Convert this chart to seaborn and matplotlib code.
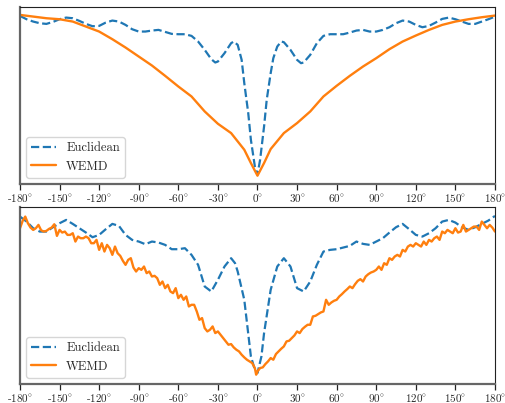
import matplotlib
matplotlib.use("Agg")
import matplotlib.pyplot as plt
import pandas as pd
import seaborn as sns

# angle (deg) -> distance (arbitrary units)
top_euc_deg = [-180, -175, -170, -165, -160, -155, -150, -145, -140, -135, -130, -125, -120,
               -115, -110, -105, -100, -95, -90, -85, -80, -75, -70, -65, -60, -55, -50, -45,
               -40, -35, -32, -30, -25, -20, -18, -15, -12, -10, -7, -5, -2, 0,
               2, 5, 7, 10, 12, 15, 18, 20, 25, 30, 33, 35, 40, 45, 50, 55, 60, 65, 70, 75,
               80, 85, 90, 95, 100, 105, 110, 115, 120, 125, 130, 135, 140, 145, 150, 155,
               160, 165, 170, 175, 180]
top_euc_val = [505, 495, 488, 483, 481, 487, 495, 500, 498, 490, 481, 474, 475,
               485, 491, 488, 478, 465, 458, 458, 461, 463, 457, 451, 450, 450, 445, 428,
               403, 375, 365, 368, 393, 423, 428, 418, 373, 303, 213, 133, 53, 28,
               73, 173, 253, 333, 378, 413, 428, 426, 403, 373, 363, 365, 388, 423, 445, 450,
               450, 450, 455, 461, 463, 458, 458, 463, 471, 483, 491, 488, 478, 471, 475, 485,
               496, 500, 495, 488, 481, 481, 488, 495, 503]

top_wemd_deg = [-180, -170, -160, -150, -140, -130, -120, -110, -100, -90, -80, -70, -60,
                -50, -40, -30, -20, -10, -5, 0, 5, 10, 20, 30, 40, 50, 60, 70, 80, 90, 100,
                110, 120, 130, 140, 150, 160, 170, 180]
top_wemd_val = [508, 503, 498, 495, 488, 473, 458, 435, 410, 383, 356, 325, 293,
                263, 218, 181, 153, 103, 63, 25, 63, 105, 153, 183, 218, 263, 295, 325, 353,
                378, 405, 428, 446, 463, 478, 488, 495, 501, 506]

bot_euc_deg = [-180, -175, -170, -165, -160, -155, -150, -145, -140, -135, -130, -125, -120,
               -115, -110, -105, -100, -95, -90, -85, -80, -75, -70, -65, -60, -55, -50, -45,
               -40, -35, -30, -25, -20, -17, -15, -10, -5, -2, 0,
               3, 5, 10, 15, 20, 25, 30, 35, 40, 45, 50, 55, 60, 65, 70, 75, 80, 85, 90, 95,
               100, 105, 110, 115, 120, 125, 130, 135, 140, 145, 150, 155, 160, 165, 170,
               175, 180]
bot_euc_val = [503, 488, 468, 458, 458, 471, 483, 493, 481, 468, 455, 441, 448,
               465, 481, 475, 448, 433, 428, 420, 428, 425, 418, 405, 405, 408, 388, 358,
               293, 278, 313, 353, 378, 363, 338, 253, 83, 43, 33,
               83, 153, 283, 353, 378, 353, 288, 278, 308, 358, 398, 403, 405, 410, 415, 428,
               421, 418, 428, 438, 455, 471, 481, 465, 448, 443, 453, 468, 488, 493, 485, 471,
               463, 471, 481, 491, 505]

bot_wemd_deg = list(range(-180, -1, 2)) + [-1] + list(range(0, 181, 2))
bot_wemd_val = [468, 490, 503, 483, 470, 463, 468, 478, 462, 458, 460, 466, 470, 480, 445,
                463, 455, 458, 448, 448, 453, 428, 443, 438, 438, 443, 438, 423, 423, 433,
                403, 423, 398, 418, 408, 388, 413, 393, 385, 370, 358, 373, 378, 350, 338,
                348, 343, 353, 333, 338, 323, 325, 318, 298, 308, 288, 298, 278, 273, 288,
                258, 268, 253, 263, 233, 238, 238, 218, 193, 198, 168, 158, 163, 173, 153,
                158, 148, 138, 128, 118, 120, 110, 103, 98, 88, 80, 73, 68, 63, 48,
                28,
                38, 48, 50, 60, 68, 78, 73, 90, 98, 106, 113, 128, 130, 138, 146, 158, 153,
                165, 172, 178, 178, 203, 205, 210, 215, 218, 253, 238, 245, 250, 253, 263,
                270, 278, 285, 293, 288, 300, 310, 315, 308, 323, 330, 335, 338, 343, 353,
                343, 363, 358, 378, 373, 383, 388, 383, 403, 398, 413, 418, 413, 423, 418,
                413, 428, 418, 433, 428, 438, 443, 433, 458, 453, 463, 458, 453, 468, 455,
                458, 478, 458, 463, 468, 473, 473, 463, 488, 478, 468, 478, 470, 458]

tick_deg = list(range(-180, 181, 30))

sns.set_theme(style="ticks")
plt.rcParams["font.family"] = ["cmr10", "DejaVu Serif"]
plt.rcParams["mathtext.fontset"] = "cm"
plt.rcParams["axes.unicode_minus"] = False
plt.rcParams["axes.formatter.use_mathtext"] = True

fig = plt.figure(figsize=(5.06, 4.03), dpi=100)
ax_top = fig.add_axes([0.0395, 0.5434, 0.9387, 0.4386])
ax_bot = fig.add_axes([0.0395, 0.0471, 0.9387, 0.4386])

panels = [
    (ax_top, top_euc_deg, top_euc_val, top_wemd_deg, top_wemd_val),
    (ax_bot, bot_euc_deg, bot_euc_val, bot_wemd_deg, bot_wemd_val),
]

for ax, e_deg, e_val, w_deg, w_val in panels:
    euc = pd.DataFrame({"angle": e_deg, "dist": e_val})
    wemd = pd.DataFrame({"angle": w_deg, "dist": w_val})
    sns.lineplot(data=euc, x="angle", y="dist", ax=ax, color="#1f77b4",
                 linestyle="--", linewidth=1.6, label="Euclidean")
    sns.lineplot(data=wemd, x="angle", y="dist", ax=ax, color="#ff7f0e",
                 linewidth=1.7, label="WEMD")

    ax.set_xlim(-180, 180)
    ax.set_ylim(0, 531)
    ax.set_xticks(tick_deg)
    ax.set_xticklabels([f"{d}$\\!^\\circ$" for d in tick_deg], fontsize=8)
    ax.set_yticks([])
    ax.set_xlabel("")
    ax.set_ylabel("")
    ax.tick_params(axis="x", length=4, width=0.9, color="#222222", pad=1.5)

    for side in ("left", "bottom"):
        ax.spines[side].set_color("#666666")
        ax.spines[side].set_linewidth(1.6)
    for side in ("top", "right"):
        ax.spines[side].set_visible(True)
        ax.spines[side].set_color("#222222")
        ax.spines[side].set_linewidth(0.8)

    ax.legend(loc="lower left", fontsize=9, frameon=True, fancybox=True,
              edgecolor="#cccccc", framealpha=0.8)

fig.savefig("out.png", dpi=100)
